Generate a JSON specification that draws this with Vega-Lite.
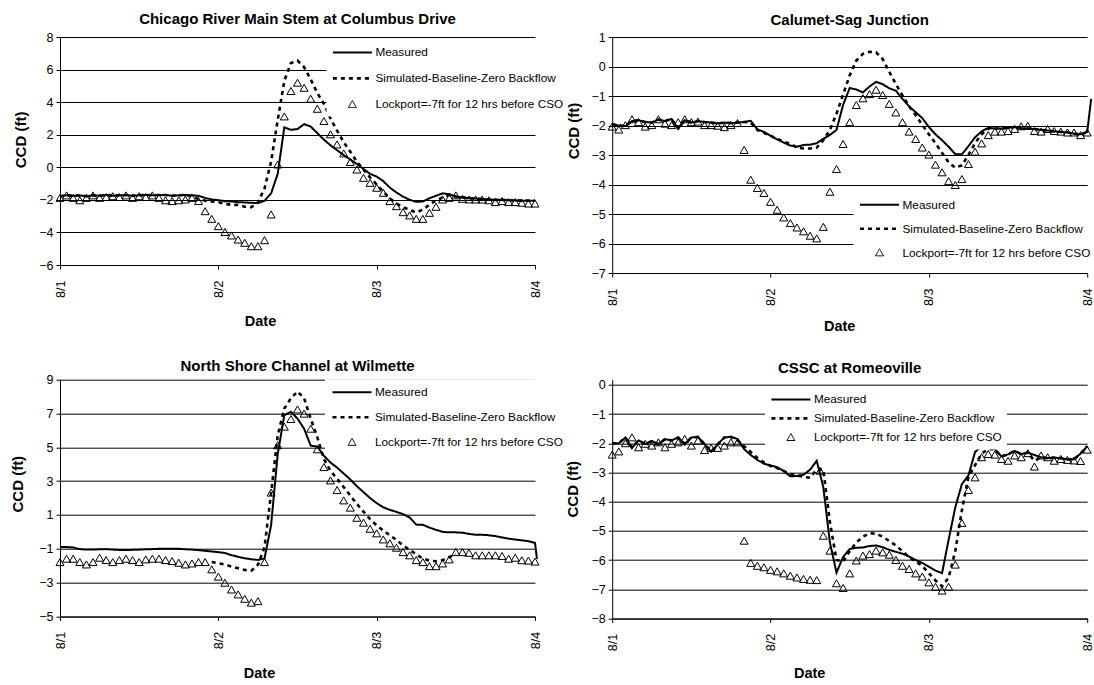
{
"$schema": "https://vega.github.io/schema/vega-lite/v6.json",
"background": "white",
"padding": {"left": 10, "top": 12, "right": 0, "bottom": 0},
"config": {
  "view": {"stroke": null},
  "font": "Liberation Sans",
  "title": {"font": "Liberation Sans", "fontSize": 15, "fontWeight": "bold", "color": "black", "anchor": "middle"},
  "axis": {"domainColor": "black", "tickColor": "black", "labelColor": "black", "titleColor": "black", "labelFont": "Liberation Sans", "titleFont": "Liberation Sans", "labelFontSize": 12.5, "titleFontWeight": "bold", "gridColor": "black", "gridOpacity": 1, "gridWidth": 1, "domainWidth": 1, "tickSize": 4, "tickWidth": 1},
  "axisY": {"grid": true, "labelPadding": 3, "titleAngle": 270, "titleAlign": "center", "titleBaseline": "middle", "titleFontSize": 15},
  "axisX": {"grid": false, "labelAngle": 270, "labelPadding": 11, "titleAlign": "center", "titleBaseline": "middle", "titleFontSize": 14.5},
  "legend": {"padding": 5, "fillColor": "white", "labelFont": "Liberation Sans", "labelFontSize": 11.8, "labelColor": "black", "labelOffset": 2, "labelLimit": 400, "symbolSize": 1521, "symbolStrokeColor": "black", "symbolFillColor": "white"}
},
"datasets": {
"p1": [
{"h":0,"m":-1.78,"s":-1.78,"l":-1.9},{"h":1,"m":-1.72,"s":-1.72,"l":-1.75},{"h":2,"m":-1.75,"s":-1.75,"l":-1.9},{"h":3,"m":-1.73,"s":-1.73,"l":-2.05},{"h":4,"m":-1.78,"s":-1.78,"l":-1.9},{"h":5,"m":-1.72,"s":-1.72,"l":-1.75},{"h":6,"m":-1.75,"s":-1.75,"l":-1.9},{"h":7,"m":-1.7,"s":-1.7,"l":-1.85},{"h":8,"m":-1.75,"s":-1.75,"l":-1.8},{"h":9,"m":-1.72,"s":-1.72,"l":-1.85},{"h":10,"m":-1.7,"s":-1.7,"l":-1.75},{"h":11,"m":-1.75,"s":-1.75,"l":-1.9},{"h":12,"m":-1.72,"s":-1.72,"l":-1.8},{"h":13,"m":-1.7,"s":-1.7,"l":-1.85},{"h":14,"m":-1.72,"s":-1.72,"l":-1.75},{"h":15,"m":-1.7,"s":-1.7,"l":-1.9},{"h":16,"m":-1.7,"s":-1.7,"l":-2.05},{"h":17,"m":-1.75,"s":-1.75,"l":-2.1},{"h":18,"m":-1.72,"s":-1.72,"l":-2.05},{"h":19,"m":-1.7,"s":-1.7,"l":-2.0},{"h":20,"m":-1.72,"s":-1.8,"l":-1.9},{"h":21,"m":-1.75,"s":-1.95,"l":-2.1},{"h":22,"m":-1.88,"s":-2.05,"l":-2.72},{"h":23,"m":-1.98,"s":-2.1,"l":-3.19},{"h":24,"m":-2.02,"s":-2.15,"l":-3.64},{"h":25,"m":-2.08,"s":-2.25,"l":-4.0},{"h":26,"m":-2.1,"s":-2.3,"l":-4.21},{"h":27,"m":-2.14,"s":-2.32,"l":-4.46},{"h":28,"m":-2.16,"s":-2.42,"l":-4.66},{"h":29,"m":-2.18,"s":-2.45,"l":-4.87},{"h":30,"m":-2.2,"s":-2.15,"l":-4.87},{"h":31,"m":-2.06,"s":-1.3,"l":-4.5},{"h":32,"m":-1.6,"s":0.35,"l":-2.92},{"h":33,"m":-0.4,"s":2.9,"l":0.15},{"h":34,"m":2.45,"s":5.3,"l":3.1},{"h":35,"m":2.3,"s":6.4,"l":4.66},{"h":36,"m":2.35,"s":6.55,"l":5.17},{"h":37,"m":2.65,"s":6.15,"l":4.86},{"h":38,"m":2.5,"s":5.4,"l":4.19},{"h":39,"m":2.1,"s":4.56,"l":3.57},{"h":40,"m":1.7,"s":3.9,"l":2.82},{"h":41,"m":1.35,"s":3.0,"l":2.0},{"h":42,"m":1.05,"s":2.25,"l":1.38},{"h":43,"m":0.75,"s":1.55,"l":0.83},{"h":44,"m":0.48,"s":0.95,"l":0.3},{"h":45,"m":0.2,"s":0.35,"l":-0.16},{"h":46,"m":-0.1,"s":-0.15,"l":-0.67},{"h":47,"m":-0.4,"s":-0.62,"l":-0.98},{"h":48,"m":-0.57,"s":-1.05,"l":-1.28},{"h":49,"m":-0.85,"s":-1.5,"l":-1.59},{"h":50,"m":-1.25,"s":-1.9,"l":-2.1},{"h":51,"m":-1.55,"s":-2.22,"l":-2.41},{"h":52,"m":-1.8,"s":-2.45,"l":-2.78},{"h":53,"m":-2.0,"s":-2.62,"l":-2.98},{"h":54,"m":-2.12,"s":-2.78,"l":-3.19},{"h":55,"m":-2.1,"s":-2.6,"l":-3.19},{"h":56,"m":-1.9,"s":-2.3,"l":-2.82},{"h":57,"m":-1.75,"s":-2.03,"l":-2.45},{"h":58,"m":-1.6,"s":-1.85,"l":-2.0},{"h":59,"m":-1.65,"s":-1.7,"l":-1.9},{"h":60,"m":-1.8,"s":-1.8,"l":-1.75},{"h":61,"m":-1.85,"s":-1.85,"l":-1.96},{"h":62,"m":-1.9,"s":-1.9,"l":-2.0},{"h":63,"m":-1.92,"s":-1.92,"l":-2.0},{"h":64,"m":-1.95,"s":-1.95,"l":-2.0},{"h":65,"m":-1.97,"s":-1.97,"l":-2.05},{"h":66,"m":-2.0,"s":-2.0,"l":-2.16},{"h":67,"m":-2.0,"s":-2.0,"l":-2.1},{"h":68,"m":-2.02,"s":-2.02,"l":-2.16},{"h":69,"m":-2.04,"s":-2.04,"l":-2.16},{"h":70,"m":-2.05,"s":-2.05,"l":-2.2},{"h":71,"m":-2.05,"s":-2.05,"l":-2.25},{"h":72,"m":-2.05,"s":-2.05,"l":-2.25}
],
"p2": [
{"h":0,"m":-1.96,"s":-1.96,"l":-2.05},{"h":1,"m":-2.0,"s":-2.0,"l":-2.15},{"h":2,"m":-2.02,"s":-2.02,"l":-2.0},{"h":3,"m":-1.85,"s":-1.85,"l":-1.8},{"h":4,"m":-1.82,"s":-1.82,"l":-1.9},{"h":5,"m":-1.88,"s":-1.88,"l":-2.05},{"h":6,"m":-1.9,"s":-1.9,"l":-2.0},{"h":7,"m":-1.8,"s":-1.8,"l":-1.8},{"h":8,"m":-1.85,"s":-1.85,"l":-1.95},{"h":9,"m":-1.78,"s":-1.78,"l":-2.0},{"h":10,"m":-2.1,"s":-2.1,"l":-1.9},{"h":11,"m":-1.82,"s":-1.82,"l":-1.8},{"h":12,"m":-1.9,"s":-1.9,"l":-1.9},{"h":13,"m":-1.85,"s":-1.85,"l":-1.88},{"h":14,"m":-1.88,"s":-1.88,"l":-2.0},{"h":15,"m":-1.9,"s":-1.9,"l":-2.0},{"h":16,"m":-1.93,"s":-1.93,"l":-2.02},{"h":17,"m":-1.9,"s":-1.9,"l":-2.07},{"h":18,"m":-1.92,"s":-1.92,"l":-2.0},{"h":19,"m":-1.9,"s":-1.9,"l":-1.93},{"h":20,"m":-1.88,"s":-1.88,"l":-2.84},{"h":21,"m":-1.84,"s":-1.9,"l":-3.85},{"h":22,"m":-2.13,"s":-2.15,"l":-4.13},{"h":23,"m":-2.22,"s":-2.25,"l":-4.3},{"h":24,"m":-2.35,"s":-2.35,"l":-4.6},{"h":25,"m":-2.47,"s":-2.45,"l":-4.87},{"h":26,"m":-2.58,"s":-2.55,"l":-5.13},{"h":27,"m":-2.68,"s":-2.62,"l":-5.32},{"h":28,"m":-2.72,"s":-2.75,"l":-5.47},{"h":29,"m":-2.66,"s":-2.78,"l":-5.6},{"h":30,"m":-2.65,"s":-2.78,"l":-5.75},{"h":31,"m":-2.6,"s":-2.75,"l":-5.84},{"h":32,"m":-2.45,"s":-2.5,"l":-5.45},{"h":33,"m":-2.32,"s":-2.15,"l":-4.26},{"h":34,"m":-2.15,"s":-1.6,"l":-3.49},{"h":35,"m":-1.3,"s":-0.95,"l":-2.64},{"h":36,"m":-0.73,"s":-0.3,"l":-1.9},{"h":37,"m":-0.78,"s":0.2,"l":-1.32},{"h":38,"m":-0.88,"s":0.43,"l":-1.09},{"h":39,"m":-0.68,"s":0.5,"l":-0.95},{"h":40,"m":-0.52,"s":0.48,"l":-0.8},{"h":41,"m":-0.6,"s":0.25,"l":-0.98},{"h":42,"m":-0.74,"s":-0.18,"l":-1.28},{"h":43,"m":-0.82,"s":-0.6,"l":-1.57},{"h":44,"m":-1.1,"s":-0.98,"l":-1.9},{"h":45,"m":-1.35,"s":-1.35,"l":-2.22},{"h":46,"m":-1.55,"s":-1.65,"l":-2.47},{"h":47,"m":-1.75,"s":-1.98,"l":-2.76},{"h":48,"m":-2.05,"s":-2.3,"l":-3.0},{"h":49,"m":-2.3,"s":-2.6,"l":-3.34},{"h":50,"m":-2.5,"s":-2.93,"l":-3.6},{"h":51,"m":-2.72,"s":-3.25,"l":-3.9},{"h":52,"m":-2.97,"s":-3.43,"l":-4.03},{"h":53,"m":-2.98,"s":-3.35,"l":-3.83},{"h":54,"m":-2.7,"s":-3.0,"l":-3.32},{"h":55,"m":-2.4,"s":-2.6,"l":-2.9},{"h":56,"m":-2.2,"s":-2.3,"l":-2.62},{"h":57,"m":-2.08,"s":-2.1,"l":-2.34},{"h":58,"m":-2.1,"s":-2.1,"l":-2.22},{"h":59,"m":-2.1,"s":-2.1,"l":-2.22},{"h":60,"m":-2.08,"s":-2.08,"l":-2.2},{"h":61,"m":-2.05,"s":-2.05,"l":-2.13},{"h":62,"m":-2.1,"s":-2.1,"l":-2.04},{"h":63,"m":-2.1,"s":-2.1,"l":-2.02},{"h":64,"m":-2.12,"s":-2.12,"l":-2.2},{"h":65,"m":-2.15,"s":-2.15,"l":-2.22},{"h":66,"m":-2.17,"s":-2.17,"l":-2.13},{"h":67,"m":-2.2,"s":-2.2,"l":-2.2},{"h":68,"m":-2.22,"s":-2.22,"l":-2.22},{"h":69,"m":-2.23,"s":-2.23,"l":-2.25},{"h":70,"m":-2.28,"s":-2.28,"l":-2.25},{"h":71,"m":-2.3,"s":-2.3,"l":-2.34},{"h":72,"m":-2.22,"s":-2.22,"l":-2.25},{"h":72.6,"m":-1.1,"s":null,"l":null}
],
"p3": [
{"h":0,"m":-0.9,"s":null,"l":-1.81},{"h":1,"m":-0.9,"s":null,"l":-1.61},{"h":2,"m":-0.92,"s":null,"l":-1.61},{"h":3,"m":-1.02,"s":null,"l":-1.81},{"h":4,"m":-1.05,"s":null,"l":-1.95},{"h":5,"m":-1.05,"s":null,"l":-1.81},{"h":6,"m":-1.03,"s":null,"l":-1.55},{"h":7,"m":-1.02,"s":null,"l":-1.69},{"h":8,"m":-1.05,"s":null,"l":-1.81},{"h":9,"m":-1.07,"s":null,"l":-1.69},{"h":10,"m":-1.08,"s":null,"l":-1.61},{"h":11,"m":-1.06,"s":null,"l":-1.69},{"h":12,"m":-1.05,"s":null,"l":-1.81},{"h":13,"m":-1.03,"s":null,"l":-1.65},{"h":14,"m":-1.02,"s":null,"l":-1.61},{"h":15,"m":-1.0,"s":null,"l":-1.61},{"h":16,"m":-1.0,"s":null,"l":-1.69},{"h":17,"m":-1.0,"s":null,"l":-1.75},{"h":18,"m":-1.0,"s":null,"l":-1.85},{"h":19,"m":-1.03,"s":null,"l":-1.95},{"h":20,"m":-1.05,"s":null,"l":-1.89},{"h":21,"m":-1.08,"s":null,"l":-1.81},{"h":22,"m":-1.12,"s":null,"l":-1.81},{"h":23,"m":-1.16,"s":-1.78,"l":-2.24},{"h":24,"m":-1.2,"s":-1.85,"l":-2.67},{"h":25,"m":-1.25,"s":-1.93,"l":-3.03},{"h":26,"m":-1.38,"s":-2.05,"l":-3.43},{"h":27,"m":-1.48,"s":-2.15,"l":-3.72},{"h":28,"m":-1.56,"s":-2.25,"l":-3.98},{"h":29,"m":-1.62,"s":-2.3,"l":-4.21},{"h":30,"m":-1.66,"s":-1.95,"l":-4.12},{"h":31,"m":-1.57,"s":-0.9,"l":-1.81},{"h":32,"m":0.4,"s":2.3,"l":2.3},{"h":33,"m":4.6,"s":5.7,"l":5.1},{"h":34,"m":6.9,"s":7.3,"l":6.2},{"h":35,"m":7.1,"s":7.9,"l":6.65},{"h":36,"m":6.7,"s":8.3,"l":7.22},{"h":37,"m":6.1,"s":7.9,"l":6.97},{"h":38,"m":5.1,"s":6.7,"l":6.08},{"h":39,"m":5.05,"s":5.6,"l":4.86},{"h":40,"m":4.5,"s":4.3,"l":3.81},{"h":41,"m":4.1,"s":3.6,"l":3.02},{"h":42,"m":3.8,"s":3.15,"l":2.45},{"h":43,"m":3.45,"s":2.65,"l":1.84},{"h":44,"m":3.1,"s":2.15,"l":1.41},{"h":45,"m":2.7,"s":1.65,"l":0.81},{"h":46,"m":2.35,"s":1.2,"l":0.52},{"h":47,"m":2.0,"s":0.75,"l":0.16},{"h":48,"m":1.7,"s":0.38,"l":-0.11},{"h":49,"m":1.45,"s":0.08,"l":-0.47},{"h":50,"m":1.3,"s":-0.2,"l":-0.7},{"h":51,"m":1.18,"s":-0.48,"l":-0.96},{"h":52,"m":1.05,"s":-0.8,"l":-1.22},{"h":53,"m":0.85,"s":-1.07,"l":-1.41},{"h":54,"m":0.43,"s":-1.33,"l":-1.69},{"h":55,"m":0.42,"s":-1.58,"l":-1.81},{"h":56,"m":0.25,"s":-1.7,"l":-2.05},{"h":57,"m":0.12,"s":-1.74,"l":-2.05},{"h":58,"m":0.0,"s":-1.67,"l":-1.89},{"h":59,"m":-0.03,"s":-1.5,"l":-1.65},{"h":60,"m":-0.03,"s":-1.3,"l":-1.22},{"h":61,"m":-0.05,"s":null,"l":-1.22},{"h":62,"m":-0.12,"s":null,"l":-1.26},{"h":63,"m":-0.17,"s":null,"l":-1.41},{"h":64,"m":-0.17,"s":null,"l":-1.41},{"h":65,"m":-0.2,"s":null,"l":-1.41},{"h":66,"m":-0.25,"s":null,"l":-1.41},{"h":67,"m":-0.33,"s":null,"l":-1.45},{"h":68,"m":-0.4,"s":null,"l":-1.61},{"h":69,"m":-0.45,"s":null,"l":-1.55},{"h":70,"m":-0.5,"s":null,"l":-1.7},{"h":71,"m":-0.55,"s":null,"l":-1.72},{"h":72,"m":-0.65,"s":null,"l":-1.78},{"h":72.3,"m":-1.6,"s":null,"l":null}
],
"p4": [
{"h":0,"m":-2.0,"s":-2.0,"l":-2.4},{"h":1,"m":-2.0,"s":-2.0,"l":-2.29},{"h":2,"m":-1.8,"s":-1.8,"l":-2.01},{"h":3,"m":-2.15,"s":-2.15,"l":-1.81},{"h":4,"m":-1.9,"s":-1.9,"l":-2.15},{"h":5,"m":-2.03,"s":-2.03,"l":-2.03},{"h":6,"m":-1.92,"s":-1.92,"l":-2.09},{"h":7,"m":-2.03,"s":-2.03,"l":-1.98},{"h":8,"m":-1.86,"s":-1.86,"l":-2.15},{"h":9,"m":-1.9,"s":-1.9,"l":-2.03},{"h":10,"m":-1.8,"s":-1.8,"l":-1.98},{"h":11,"m":-2.03,"s":-2.03,"l":-1.86},{"h":12,"m":-1.8,"s":-1.8,"l":-2.09},{"h":13,"m":-1.78,"s":-1.78,"l":-1.92},{"h":14,"m":-2.03,"s":-2.03,"l":-2.24},{"h":15,"m":-2.29,"s":-2.29,"l":-2.17},{"h":16,"m":-2.03,"s":-2.03,"l":-2.17},{"h":17,"m":-1.8,"s":-1.8,"l":-2.09},{"h":18,"m":-1.78,"s":-1.78,"l":-1.98},{"h":19,"m":-1.85,"s":-1.9,"l":-1.98},{"h":20,"m":-2.2,"s":-2.1,"l":-5.35},{"h":21,"m":-2.4,"s":-2.3,"l":-6.11},{"h":22,"m":-2.57,"s":-2.5,"l":-6.21},{"h":23,"m":-2.7,"s":-2.65,"l":-6.26},{"h":24,"m":-2.76,"s":-2.78,"l":-6.35},{"h":25,"m":-2.82,"s":-2.85,"l":-6.4},{"h":26,"m":-2.95,"s":-2.95,"l":-6.47},{"h":27,"m":-3.13,"s":-3.05,"l":-6.55},{"h":28,"m":-3.12,"s":-3.1,"l":-6.61},{"h":29,"m":-3.08,"s":-3.15,"l":-6.66},{"h":30,"m":-2.9,"s":-3.18,"l":-6.69},{"h":31,"m":-2.6,"s":-2.9,"l":-6.7},{"h":31.5,"m":null,"s":null,"l":-2.95},{"h":32,"m":-3.5,"s":-2.9,"l":-5.18},{"h":33,"m":-5.4,"s":-4.7,"l":-5.69},{"h":34,"m":-6.43,"s":-6.0,"l":-6.81},{"h":35,"m":-5.9,"s":-6.05,"l":-6.97},{"h":36,"m":-5.62,"s":-5.7,"l":-6.47},{"h":37,"m":-5.58,"s":-5.4,"l":-6.03},{"h":38,"m":-5.57,"s":-5.2,"l":-5.86},{"h":39,"m":-5.52,"s":-5.08,"l":-5.81},{"h":40,"m":-5.5,"s":-5.1,"l":-5.69},{"h":41,"m":-5.56,"s":-5.2,"l":-5.75},{"h":42,"m":-5.65,"s":-5.35,"l":-5.83},{"h":43,"m":-5.72,"s":-5.5,"l":-6.01},{"h":44,"m":-5.78,"s":-5.7,"l":-6.21},{"h":45,"m":-5.88,"s":-5.9,"l":-6.32},{"h":46,"m":-6.0,"s":-6.05,"l":-6.47},{"h":47,"m":-6.1,"s":-6.2,"l":-6.58},{"h":48,"m":-6.23,"s":-6.45,"l":-6.78},{"h":49,"m":-6.36,"s":-6.7,"l":-6.93},{"h":50,"m":-6.45,"s":-6.9,"l":-7.06},{"h":51,"m":-5.3,"s":-6.6,"l":-6.93},{"h":52,"m":-4.2,"s":-5.7,"l":-6.17},{"h":53,"m":-3.4,"s":-4.3,"l":-4.74},{"h":54,"m":-3.1,"s":-3.15,"l":-3.61},{"h":55,"m":-2.3,"s":-2.75,"l":-3.18},{"h":56,"m":-2.09,"s":-2.35,"l":-2.49},{"h":57,"m":-2.12,"s":-2.2,"l":-2.38},{"h":58,"m":-2.2,"s":-2.2,"l":-2.4},{"h":59,"m":-2.45,"s":-2.45,"l":-2.55},{"h":60,"m":-2.38,"s":-2.38,"l":-2.61},{"h":61,"m":-2.26,"s":-2.26,"l":-2.43},{"h":62,"m":-2.37,"s":-2.37,"l":-2.49},{"h":63,"m":-2.32,"s":-2.32,"l":-2.35},{"h":64,"m":-2.4,"s":-2.6,"l":-2.81},{"h":65,"m":-2.48,"s":-2.48,"l":-2.43},{"h":66,"m":-2.51,"s":-2.51,"l":-2.49},{"h":67,"m":-2.49,"s":-2.49,"l":-2.61},{"h":68,"m":-2.51,"s":-2.51,"l":-2.55},{"h":69,"m":-2.55,"s":-2.55,"l":-2.58},{"h":70,"m":-2.55,"s":-2.55,"l":-2.6},{"h":71,"m":-2.35,"s":-2.35,"l":-2.62},{"h":72,"m":-2.1,"s":-2.1,"l":-2.23}
]
},
"columns": 2,
"bounds": "flush",
"spacing": {"row": 106.7, "column": 77.2},
"resolve": {"scale": {"strokeDash": "independent", "shape": "independent", "strokeWidth": "independent"}, "legend": {"strokeDash": "independent", "shape": "independent", "strokeWidth": "independent"}},
"concat": [
{
 "width": 475, "height": 228,
 "title": {"text": "Chicago River Main Stem at Columbus Drive", "offset": 4},
 "data": {"name": "p1"},
 "encoding": {
  "x": {"field": "h", "type": "quantitative", "scale": {"domain": [0, 72], "nice": false, "zero": false}, "axis": {"values": [0, 24, 48, 72], "labelExpr": "'8/' + (datum.value/24 + 1)", "title": "Date", "titleX": 200, "titleY": 56.7}},
  "y": {"field": "v", "type": "quantitative", "scale": {"domain": [-6, 8], "nice": false, "zero": false}, "axis": {"values": [-6, -4, -2, 0, 2, 4, 6, 8], "title": "CCD (ft)", "titleX": -40, "titleY": 102.4}}
 },
 "layer": [
  {"transform": [{"fold": ["m", "s"], "as": ["k", "v"]}, {"filter": "isValid(datum.v)"}],
   "mark": {"type": "line", "color": "black"},
   "encoding": {
    "strokeDash": {"field": "k", "type": "nominal", "scale": {"domain": ["m", "s", "l"], "range": [[1, 0], [4, 4], [1, 0]]}, "legend": {"orient": "none", "legendX": 266.4, "legendY": 3.4, "clipHeight": 14, "rowPadding": 12, "title": null, "labelExpr": "datum.label == 'm' ? 'Measured' : datum.label == 's' ? 'Simulated-Baseline-Zero Backflow' : 'Lockport=-7ft for 12 hrs before CSO'"}},
    "strokeWidth": {"field": "k", "type": "nominal", "scale": {"type": "ordinal", "domain": ["m", "s", "l"], "range": [2, 2.6, 1]}, "legend": {"orient": "none", "legendX": 266.4, "legendY": 3.4, "clipHeight": 14, "rowPadding": 12, "title": null, "labelExpr": "datum.label == 'm' ? 'Measured' : datum.label == 's' ? 'Simulated-Baseline-Zero Backflow' : 'Lockport=-7ft for 12 hrs before CSO'"}}
   }},
  {"transform": [{"fold": ["l"], "as": ["k", "v"]}, {"filter": "isValid(datum.v)"}],
   "mark": {"type": "point", "color": "black", "filled": false, "size": 1521, "strokeWidth": 1, "opacity": 1},
   "encoding": {
    "shape": {"field": "k", "type": "nominal", "scale": {"domain": ["m", "s", "l"], "range": ["M-1,0L1,0", "M-1,0L1,0", "M0,-0.2L0.205,0.16L-0.205,0.16Z"]}, "legend": {"orient": "none", "legendX": 266.4, "legendY": 3.4, "clipHeight": 14, "rowPadding": 12, "title": null, "labelExpr": "datum.label == 'm' ? 'Measured' : datum.label == 's' ? 'Simulated-Baseline-Zero Backflow' : 'Lockport=-7ft for 12 hrs before CSO'"}}
   }}
 ]
},
{
 "width": 475, "height": 236,
 "title": {"text": "Calumet-Sag Junction", "offset": 2.6},
 "data": {"name": "p2"},
 "encoding": {
  "x": {"field": "h", "type": "quantitative", "scale": {"domain": [0, 72], "nice": false, "zero": false}, "axis": {"values": [0, 24, 48, 72], "labelExpr": "'8/' + (datum.value/24 + 1)", "title": "Date", "titleX": 227, "titleY": 53.4}},
  "y": {"field": "v", "type": "quantitative", "scale": {"domain": [-7, 1], "nice": false, "zero": false}, "axis": {"values": [-7, -6, -5, -4, -3, -2, -1, 0, 1], "title": "CCD (ft)", "titleX": -38.7, "titleY": 93.5}}
 },
 "layer": [
  {"transform": [{"fold": ["m", "s"], "as": ["k", "v"]}, {"filter": "isValid(datum.v)"}],
   "mark": {"type": "line", "color": "black"},
   "encoding": {
    "strokeDash": {"field": "k", "type": "nominal", "scale": {"domain": ["m", "s", "l"], "range": [[1, 0], [4, 4], [1, 0]]}, "legend": {"orient": "none", "legendX": 241.3, "legendY": 155.7, "clipHeight": 14, "rowPadding": 10, "title": null, "labelExpr": "datum.label == 'm' ? 'Measured' : datum.label == 's' ? 'Simulated-Baseline-Zero Backflow' : 'Lockport=-7ft for 12 hrs before CSO'"}},
    "strokeWidth": {"field": "k", "type": "nominal", "scale": {"type": "ordinal", "domain": ["m", "s", "l"], "range": [2, 2.6, 1]}, "legend": {"orient": "none", "legendX": 241.3, "legendY": 155.7, "clipHeight": 14, "rowPadding": 10, "title": null, "labelExpr": "datum.label == 'm' ? 'Measured' : datum.label == 's' ? 'Simulated-Baseline-Zero Backflow' : 'Lockport=-7ft for 12 hrs before CSO'"}}
   }},
  {"transform": [{"fold": ["l"], "as": ["k", "v"]}, {"filter": "isValid(datum.v)"}],
   "mark": {"type": "point", "color": "black", "filled": false, "size": 1521, "strokeWidth": 1, "opacity": 1},
   "encoding": {
    "shape": {"field": "k", "type": "nominal", "scale": {"domain": ["m", "s", "l"], "range": ["M-1,0L1,0", "M-1,0L1,0", "M0,-0.2L0.205,0.16L-0.205,0.16Z"]}, "legend": {"orient": "none", "legendX": 241.3, "legendY": 155.7, "clipHeight": 14, "rowPadding": 10, "title": null, "labelExpr": "datum.label == 'm' ? 'Measured' : datum.label == 's' ? 'Simulated-Baseline-Zero Backflow' : 'Lockport=-7ft for 12 hrs before CSO'"}}
   }}
 ]
},
{
 "width": 475, "height": 236.7,
 "title": {"text": "North Shore Channel at Wilmette", "offset": 0},
 "data": {"name": "p3"},
 "encoding": {
  "x": {"field": "h", "type": "quantitative", "scale": {"domain": [0, 72], "nice": false, "zero": false}, "axis": {"values": [0, 24, 48, 72], "labelExpr": "'8/' + (datum.value/24 + 1)", "title": "Date", "titleX": 199, "titleY": 56.6}},
  "y": {"field": "v", "type": "quantitative", "scale": {"domain": [-5, 9], "nice": false, "zero": false}, "axis": {"values": [-5, -3, -1, 1, 3, 5, 7, 9], "title": "CCD (ft)", "titleX": -43, "titleY": 104}}
 },
 "layer": [
  {"transform": [{"fold": ["m", "s"], "as": ["k", "v"]}, {"filter": "isValid(datum.v)"}],
   "mark": {"type": "line", "color": "black"},
   "encoding": {
    "strokeDash": {"field": "k", "type": "nominal", "scale": {"domain": ["m", "s", "l"], "range": [[1, 0], [4, 4], [1, 0]]}, "legend": {"orient": "none", "legendX": 265, "legendY": -0.5, "padding": 6, "clipHeight": 14, "rowPadding": 11, "title": null, "labelExpr": "datum.label == 'm' ? 'Measured' : datum.label == 's' ? 'Simulated-Baseline-Zero Backflow' : 'Lockport=-7ft for 12 hrs before CSO'"}},
    "strokeWidth": {"field": "k", "type": "nominal", "scale": {"type": "ordinal", "domain": ["m", "s", "l"], "range": [2, 2.6, 1]}, "legend": {"orient": "none", "legendX": 265, "legendY": -0.5, "padding": 6, "clipHeight": 14, "rowPadding": 11, "title": null, "labelExpr": "datum.label == 'm' ? 'Measured' : datum.label == 's' ? 'Simulated-Baseline-Zero Backflow' : 'Lockport=-7ft for 12 hrs before CSO'"}}
   }},
  {"transform": [{"fold": ["l"], "as": ["k", "v"]}, {"filter": "isValid(datum.v)"}],
   "mark": {"type": "point", "color": "black", "filled": false, "size": 1521, "strokeWidth": 1, "opacity": 1},
   "encoding": {
    "shape": {"field": "k", "type": "nominal", "scale": {"domain": ["m", "s", "l"], "range": ["M-1,0L1,0", "M-1,0L1,0", "M0,-0.2L0.205,0.16L-0.205,0.16Z"]}, "legend": {"orient": "none", "legendX": 265, "legendY": -0.5, "padding": 6, "clipHeight": 14, "rowPadding": 11, "title": null, "labelExpr": "datum.label == 'm' ? 'Measured' : datum.label == 's' ? 'Simulated-Baseline-Zero Backflow' : 'Lockport=-7ft for 12 hrs before CSO'"}}
   }}
 ]
},
{
 "width": 475, "height": 238.7,
 "title": {"text": "CSSC at Romeoville", "offset": 3},
 "data": {"name": "p4"},
 "encoding": {
  "x": {"field": "h", "type": "quantitative", "scale": {"domain": [0, 72], "nice": false, "zero": false}, "axis": {"values": [0, 24, 48, 72], "labelExpr": "'8/' + (datum.value/24 + 1)", "title": "Date", "titleX": 197, "titleY": 54.6}},
  "y": {"field": "v", "type": "quantitative", "scale": {"domain": [-8, 0.18], "nice": false, "zero": false}, "axis": {"values": [-8, -7, -6, -5, -4, -3, -2, -1, 0], "title": "CCD (ft)", "titleX": -40, "titleY": 109}}
 },
 "layer": [
  {"transform": [{"fold": ["m", "s"], "as": ["k", "v"]}, {"filter": "isValid(datum.v)"}],
   "mark": {"type": "line", "color": "black"},
   "encoding": {
    "strokeDash": {"field": "k", "type": "nominal", "scale": {"domain": ["m", "s", "l"], "range": [[1, 0], [4, 4], [1, 0]]}, "legend": {"orient": "none", "legendX": 152.7, "legendY": 8.7, "clipHeight": 12, "rowPadding": 6, "title": null, "labelExpr": "datum.label == 'm' ? 'Measured' : datum.label == 's' ? 'Simulated-Baseline-Zero Backflow' : 'Lockport=-7ft for 12 hrs before CSO'"}},
    "strokeWidth": {"field": "k", "type": "nominal", "scale": {"type": "ordinal", "domain": ["m", "s", "l"], "range": [2, 2.6, 1]}, "legend": {"orient": "none", "legendX": 152.7, "legendY": 8.7, "clipHeight": 12, "rowPadding": 6, "title": null, "labelExpr": "datum.label == 'm' ? 'Measured' : datum.label == 's' ? 'Simulated-Baseline-Zero Backflow' : 'Lockport=-7ft for 12 hrs before CSO'"}}
   }},
  {"transform": [{"fold": ["l"], "as": ["k", "v"]}, {"filter": "isValid(datum.v)"}],
   "mark": {"type": "point", "color": "black", "filled": false, "size": 1521, "strokeWidth": 1, "opacity": 1},
   "encoding": {
    "shape": {"field": "k", "type": "nominal", "scale": {"domain": ["m", "s", "l"], "range": ["M-1,0L1,0", "M-1,0L1,0", "M0,-0.2L0.205,0.16L-0.205,0.16Z"]}, "legend": {"orient": "none", "legendX": 152.7, "legendY": 8.7, "clipHeight": 12, "rowPadding": 6, "title": null, "labelExpr": "datum.label == 'm' ? 'Measured' : datum.label == 's' ? 'Simulated-Baseline-Zero Backflow' : 'Lockport=-7ft for 12 hrs before CSO'"}}
   }}
 ]
}
]
}
